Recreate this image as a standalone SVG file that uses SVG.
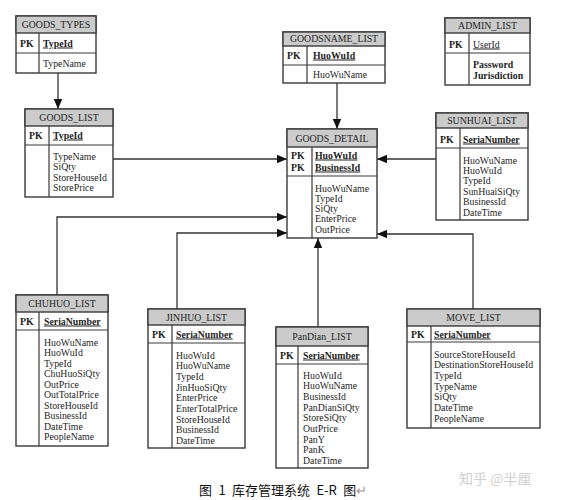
<svg xmlns="http://www.w3.org/2000/svg" width="566" height="500" viewBox="0 0 566 500">
<defs>
<style>
.box{fill:#fff;stroke:#3a3a3a;stroke-width:1.4}
.hdr{fill:#cbcbcb;stroke:#3a3a3a;stroke-width:1.4}
.div{stroke:#3a3a3a;stroke-width:1.2;fill:none}
text{font-family:"Liberation Serif","Times New Roman",serif;font-size:9.8px;fill:#1e1e1e}
.h{text-anchor:middle}
.b{font-weight:bold}
.u{font-weight:bold;text-decoration:underline}
.con{stroke:#333;stroke-width:1.3;fill:none}
.cap{font-family:"Noto Sans CJK SC","Noto Sans",sans-serif;font-size:13px;word-spacing:3.5px;fill:#111}
.wm{font-family:"Noto Sans CJK SC","Noto Sans",sans-serif;font-size:14px;fill:#cfcfcf}
</style>
<marker id="ah" markerUnits="userSpaceOnUse" markerWidth="10" markerHeight="10" viewBox="0 0 10 10" refX="10" refY="5" orient="auto">
<path d="M0,0.8 L10,5 L0,9.2 Z" fill="#111"/>
</marker>
</defs>

<g id="connectors">
<path class="con" d="M58,73 V109" marker-end="url(#ah)"/>
<path class="con" d="M113,159 H287" marker-end="url(#ah)"/>
<path class="con" d="M337,83 V129" marker-end="url(#ah)"/>
<path class="con" d="M436,159 H377" marker-end="url(#ah)"/>
<path class="con" d="M57,295 V217 H287" marker-end="url(#ah)"/>
<path class="con" d="M177,309 V233 H287" marker-end="url(#ah)"/>
<path class="con" d="M318,327 V238" marker-end="url(#ah)"/>
<path class="con" d="M473,309 V234 H377" marker-end="url(#ah)"/>
</g>

<g id="goods_types">
<rect class="box" x="16" y="16" width="80" height="57"/>
<rect class="hdr" x="16" y="16" width="80" height="17"/>
<path class="div" d="M16,53 H96 M39,33 V73"/>
<text class="h" x="56" y="28">GOODS_TYPES</text>
<text class="b" x="20" y="46.5">PK</text>
<text class="u" x="43" y="46.5">TypeId</text>
<text x="43" y="66.5">TypeName</text>
</g>

<g id="goods_list">
<rect class="box" x="25" y="109" width="88" height="88"/>
<rect class="hdr" x="25" y="109" width="88" height="17"/>
<path class="div" d="M25,145 H113 M49,126 V197"/>
<text class="h" x="69" y="121">GOODS_LIST</text>
<text class="b" x="29" y="138.5">PK</text>
<text class="u" x="53" y="138.5">TypeId</text>
<text x="53" y="159.5">TypeName</text>
<text x="53" y="170">SiQty</text>
<text x="53" y="180.5">StoreHouseId</text>
<text x="53" y="191">StorePrice</text>
</g>

<g id="goodsname_list">
<rect class="box" x="283" y="32" width="102" height="51"/>
<rect class="hdr" x="283" y="32" width="102" height="14"/>
<path class="div" d="M283,65 H385 M307,46 V83"/>
<text class="h" x="334" y="42">GOODSNAME_LIST</text>
<text class="b" x="287" y="58.5">PK</text>
<text class="u" x="313" y="58.5">HuoWuId</text>
<text x="313" y="77.5">HuoWuName</text>
</g>

<g id="admin_list">
<rect class="box" x="445" y="18" width="85" height="67"/>
<rect class="hdr" x="445" y="18" width="85" height="15"/>
<path class="div" d="M445,53 H530 M469,33 V85"/>
<text class="h" x="487.5" y="29">ADMIN_LIST</text>
<text class="b" x="449" y="47.5">PK</text>
<text class="u" x="473" y="47.5" style="font-weight:normal">UserId</text>
<text class="b" x="473" y="67.5">Password</text>
<text class="b" x="473" y="78.5">Jurisdiction</text>
</g>

<g id="goods_detail">
<rect class="box" x="287" y="129" width="90" height="109"/>
<rect class="hdr" x="287" y="129" width="90" height="18"/>
<path class="div" d="M287,176 H377 M312,147 V238"/>
<text class="h" x="332" y="141.5">GOODS_DETAIL</text>
<text class="b" x="291" y="158.5">PK</text>
<text class="b" x="291" y="170.5">PK</text>
<text class="u" x="315" y="158.5">HuoWuId</text>
<text class="u" x="315" y="170.5">BusinessId</text>
<text x="315" y="191.5">HuoWuName</text>
<text x="315" y="201.8">TypeId</text>
<text x="315" y="212.1">SiQty</text>
<text x="315" y="222.4">EnterPrice</text>
<text x="315" y="232.7">OutPrice</text>
</g>

<g id="sunhuai_list">
<rect class="box" x="436" y="113" width="92" height="107"/>
<rect class="hdr" x="436" y="113" width="92" height="15"/>
<path class="div" d="M436,148 H528 M460,128 V220"/>
<text class="h" x="482" y="124">SUNHUAI_LIST</text>
<text class="b" x="440" y="142.5">PK</text>
<text class="u" x="463" y="142.5">SeriaNumber</text>
<text x="463" y="163.5">HuoWuName</text>
<text x="463" y="173.9">HuoWuId</text>
<text x="463" y="184.3">TypeId</text>
<text x="463" y="194.7">SunHuaiSiQty</text>
<text x="463" y="205.1">BusinessId</text>
<text x="463" y="215.5">DateTime</text>
</g>

<g id="chuhuo_list">
<rect class="box" x="16" y="295" width="92" height="151"/>
<rect class="hdr" x="16" y="295" width="92" height="17"/>
<path class="div" d="M16,330 H108 M39,312 V446"/>
<text class="h" x="62" y="307">CHUHUO_LIST</text>
<text class="b" x="20" y="324.5">PK</text>
<text class="u" x="44" y="324.5">SeriaNumber</text>
<text x="44" y="345.5">HuoWuName</text>
<text x="44" y="356">HuoWuId</text>
<text x="44" y="366.5">TypeId</text>
<text x="44" y="377">ChuHuoSiQty</text>
<text x="44" y="387.5">OutPrice</text>
<text x="44" y="398">OutTotalPrice</text>
<text x="44" y="408.5">StoreHouseId</text>
<text x="44" y="419">BusinessId</text>
<text x="44" y="429.5">DateTime</text>
<text x="44" y="440">PeopleName</text>
</g>

<g id="jinhuo_list">
<rect class="box" x="148" y="309" width="97" height="139"/>
<rect class="hdr" x="148" y="309" width="97" height="16"/>
<path class="div" d="M148,343 H245 M172,325 V448"/>
<text class="h" x="196.5" y="320.5">JINHUO_LIST</text>
<text class="b" x="152" y="337.5">PK</text>
<text class="u" x="176" y="337.5">SeriaNumber</text>
<text x="176" y="358.5">HuoWuId</text>
<text x="176" y="369.2">HuoWuName</text>
<text x="176" y="379.9">TypeId</text>
<text x="176" y="390.6">JinHuoSiQty</text>
<text x="176" y="401.3">EnterPrice</text>
<text x="176" y="412">EnterTotalPrice</text>
<text x="176" y="422.7">StoreHouseId</text>
<text x="176" y="433.4">BusinessId</text>
<text x="176" y="444.1">DateTime</text>
</g>

<g id="pandian_list">
<rect class="box" x="276" y="327" width="92" height="141"/>
<rect class="hdr" x="276" y="327" width="92" height="19"/>
<path class="div" d="M276,364 H368 M298,346 V468"/>
<text class="h" x="322" y="340">PanDian_LIST</text>
<text class="b" x="280" y="358.5">PK</text>
<text class="u" x="303" y="358.5">SeriaNumber</text>
<text x="303" y="378.5">HuoWuId</text>
<text x="303" y="389.2">HuoWuName</text>
<text x="303" y="399.9">BusinessId</text>
<text x="303" y="410.6">PanDianSiQty</text>
<text x="303" y="421.3">StoreSiQty</text>
<text x="303" y="432">OutPrice</text>
<text x="303" y="442.7">PanY</text>
<text x="303" y="453.4">PanK</text>
<text x="303" y="464.1">DateTime</text>
</g>

<g id="move_list">
<rect class="box" x="407" y="309" width="133" height="119"/>
<rect class="hdr" x="407" y="309" width="133" height="17"/>
<path class="div" d="M407,342 H540 M431,326 V428"/>
<text class="h" x="473.5" y="320.5">MOVE_LIST</text>
<text class="b" x="411" y="337.5">PK</text>
<text class="u" x="434" y="337.5">SeriaNumber</text>
<text x="434" y="357.5">SourceStoreHouseId</text>
<text x="434" y="368.2">DestinationStoreHouseId</text>
<text x="434" y="378.9">TypeId</text>
<text x="434" y="389.6">TypeName</text>
<text x="434" y="400.3">SiQty</text>
<text x="434" y="411">DateTime</text>
<text x="434" y="421.7">PeopleName</text>
</g>

<text class="wm" x="459" y="484">知乎 @半厘</text>
<text class="cap" x="199" y="495">图 1 库存管理系统 E-R 图<tspan fill="#999">↵</tspan></text>
</svg>
